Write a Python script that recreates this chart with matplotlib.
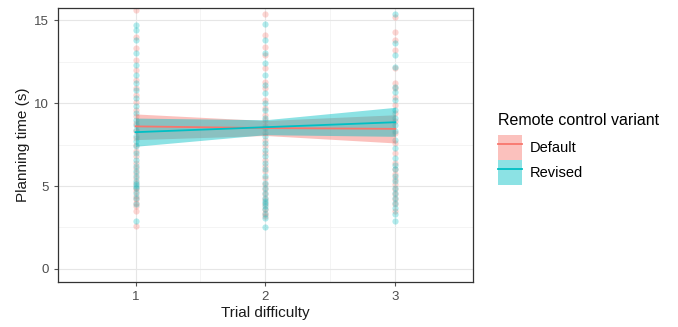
import numpy as np
import matplotlib.pyplot as plt
from matplotlib.patches import Patch
from matplotlib.lines import Line2D

plt.rcParams['font.family'] = ['Liberation Sans', 'DejaVu Sans']

groups = ['Default', 'Revised']
colors = {'Default': '#F8766D', 'Revised': '#00BFC4'}

# raw planning times per difficulty
default_d1 = [2.6, 3.5, 3.8, 4.0, 4.2, 4.4, 4.7, 4.9, 5.2, 5.5, 5.8, 6.1, 6.4, 6.8, 7.1, 7.5,
              7.9, 8.3, 8.8, 9.2, 9.6, 10.1, 10.5, 10.9, 11.4, 12.0, 12.6, 13.3, 14.0, 15.6]
revised_d1 = [2.9, 3.9, 4.3, 4.6, 4.9, 5.0, 5.1, 5.3, 5.6, 5.9, 6.2, 6.6, 7.0, 7.4, 7.7, 8.0,
              8.4, 8.7, 9.0, 9.4, 9.8, 10.3, 10.8, 11.2, 11.7, 12.3, 13.0, 13.8, 14.4, 14.7]
default_d2 = [3.2, 3.4, 3.6, 3.9, 4.2, 4.5, 4.8, 5.1, 5.5, 5.9, 6.2, 6.6, 7.0, 7.4, 7.8, 8.2,
              8.6, 9.0, 9.3, 9.7, 10.2, 10.9, 11.3, 12.1, 12.9, 13.4, 14.1, 15.4]
revised_d2 = [2.5, 3.1, 3.3, 3.6, 3.8, 4.0, 4.1, 4.3, 4.6, 4.9, 5.2, 5.6, 6.0, 6.4, 6.8, 7.2,
              7.6, 8.0, 8.5, 9.1, 9.6, 10.0, 10.6, 11.1, 11.7, 12.4, 13.0, 13.8, 14.8]
default_d3 = [3.5, 3.9, 4.2, 4.5, 4.8, 5.1, 5.4, 5.7, 6.0, 6.4, 7.0, 7.6, 8.2, 8.9, 9.4, 9.9,
              10.4, 10.9, 11.2, 12.1, 13.2, 13.8, 14.3, 15.2]
revised_d3 = [2.9, 3.3, 3.7, 4.0, 4.3, 4.6, 4.9, 5.3, 5.6, 6.0, 6.3, 6.7, 7.3, 7.8, 8.3, 8.7,
              9.1, 9.6, 10.2, 10.7, 11.0, 12.2, 12.9, 13.6, 15.4]
points = {
    'Default': [default_d1, default_d2, default_d3],
    'Revised': [revised_d1, revised_d2, revised_d3],
}

# fitted line and confidence band at difficulty 1, 2, 3
difficulty = [1, 2, 3]
fit = {'Default': [8.6, 8.5, 8.45], 'Revised': [8.25, 8.55, 8.85]}
ci_low = {'Default': [7.8, 8.05, 7.6], 'Revised': [7.4, 8.1, 8.0]}
ci_high = {'Default': [9.35, 8.95, 9.3], 'Revised': [9.1, 9.0, 9.75]}

fig = plt.figure(figsize=(6.78, 3.27), dpi=100)
ax = fig.add_axes([0.085, 0.138, 0.613, 0.838])

for g in groups:
    for d, vals in zip(difficulty, points[g]):
        ax.scatter([d] * len(vals), vals, s=20, color=colors[g], alpha=0.3,
                   linewidths=0, zorder=2)

for g in groups:
    ax.fill_between(difficulty, ci_low[g], ci_high[g], color=colors[g], alpha=0.45,
                    linewidth=0, zorder=3)
for g in groups:
    ax.plot(difficulty, fit[g], color=colors[g], lw=1.3, zorder=4)

ax.set_xlim(0.4, 3.6)
ax.set_ylim(-0.78, 15.75)
ax.set_xticks(difficulty)
ax.set_yticks([0, 5, 10, 15])
ax.set_xticks([1.5, 2.5], minor=True)
ax.set_yticks([2.5, 7.5, 12.5], minor=True)
ax.grid(which='major', color='#e6e6e6', lw=0.8, zorder=0)
ax.grid(which='minor', color='#f2f2f2', lw=0.6, zorder=0)
ax.tick_params(which='minor', length=0)
ax.tick_params(which='major', length=3, color='#555555', labelcolor='#4d4d4d',
               labelsize=9.5)
for s in ax.spines.values():
    s.set_color('#333333')
    s.set_linewidth(0.9)
ax.set_axisbelow(True)

ax.set_xlabel('Trial difficulty', fontsize=11, color='#1a1a1a', labelpad=2)
ax.set_ylabel('Planning time (s)', fontsize=11, color='#1a1a1a', labelpad=3)

handles = [(Patch(facecolor=colors[g], alpha=0.45, edgecolor='none'),
            Line2D([], [], color=colors[g], lw=1.3)) for g in groups]
leg = fig.legend(handles, groups, title='Remote control variant',
                 loc='upper left', bbox_to_anchor=(0.726, 0.672), frameon=False,
                 fontsize=10.5, title_fontsize=11.5, handlelength=1.65, handleheight=2.26,
                 handletextpad=0.55, labelspacing=0.0, borderaxespad=0)
leg._legend_box.align = 'left'
leg._legend_box.sep = 5

fig.savefig('out.png', dpi=100)
